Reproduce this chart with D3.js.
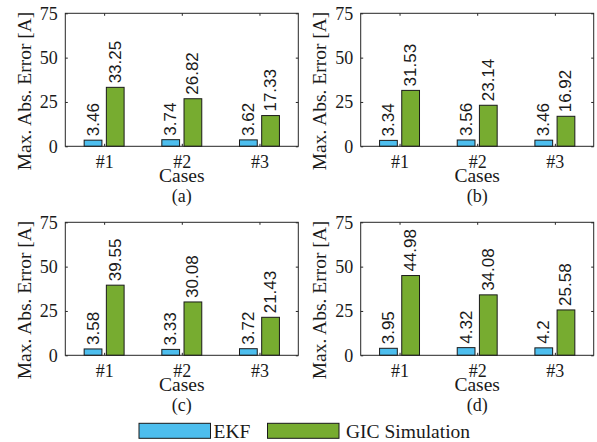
<!DOCTYPE html>
<html>
<head>
<meta charset="utf-8">
<script src="https://cdn.jsdelivr.net/npm/d3@7"></script>
<style>
  html, body { margin: 0; padding: 0; background: #fff; }
  svg { display: block; }
</style>
</head>
<body>
<svg id="chart" width="597" height="442"></svg>
<script>
// ---- data ----
const categories = ["#1", "#2", "#3"];
const seriesNames = ["EKF", "GIC Simulation"];
const panelLabels = ["(a)", "(b)", "(c)", "(d)"];
const ekfA = [3.46, 3.74, 3.62];
const gicA = [33.25, 26.82, 17.33];
const ekfB = [3.34, 3.56, 3.46];
const gicB = [31.53, 23.14, 16.92];
const ekfC = [3.58, 3.33, 3.72];
const gicC = [39.55, 30.08, 21.43];
const ekfD = [3.95, 4.32, 4.2];
const gicD = [44.98, 34.08, 25.58];
const yTicks = [0, 25, 50, 75];
const yLabel = "Max. Abs. Error [A]";
const xLabel = "Cases";

const panels = [
  { ekf: ekfA, gic: gicA, label: panelLabels[0], left: 65.3, top: 13.3 },
  { ekf: ekfB, gic: gicB, label: panelLabels[1], left: 360.7, top: 13.3 },
  { ekf: ekfC, gic: gicC, label: panelLabels[2], left: 65.3, top: 222.3 },
  { ekf: ekfD, gic: gicD, label: panelLabels[3], left: 360.7, top: 222.3 }
];

const colors = ["#4DBEEE", "#77AC30"];
const axisColor = "#262626";
const serifFont = "Liberation Serif";
const sansFont = "Liberation Sans";
const W = 233, H = 133;
const groupW = 2 / 3.5;            // MATLAB grouped bar width
const barW = groupW / 2 * 0.8;
const offsets = [-groupW / 4, groupW / 4];

const svg = d3.select("#chart");

panels.forEach(p => {
  const g = svg.append("g").attr("transform", `translate(${p.left},${p.top})`);
  const x = d3.scaleLinear().domain([0.5, 3.5]).range([0, W]);
  const y = d3.scaleLinear().domain([0, 75]).range([H, 0]);

  // bars
  [p.ekf, p.gic].forEach((vals, si) => {
    g.selectAll(null).data(vals).enter().append("rect")
      .attr("x", (d, i) => x(i + 1 + offsets[si] - barW / 2))
      .attr("y", d => y(d))
      .attr("width", x(barW) - x(0))
      .attr("height", d => y(0) - y(d))
      .attr("fill", colors[si])
      .attr("stroke", "#1a1a1a")
      .attr("stroke-width", 1);
    g.selectAll(null).data(vals).enter().append("text")
      .attr("transform", (d, i) => `translate(${x(i + 1 + offsets[si])},${y(d) - 4}) rotate(-90)`)
      .attr("text-anchor", "start")
      .attr("dominant-baseline", "central")
      .attr("font-family", sansFont)
      .attr("font-size", 17)
      .attr("fill", "#1a1a1a")
      .text(d => String(d));
  });

  // axes (box with mirrored inward ticks)
  const tickLen = 2.5;
  const axL = g.append("g").call(d3.axisLeft(y).tickValues(yTicks).tickSize(-tickLen).tickPadding(5 + tickLen));
  const axR = g.append("g").attr("transform", `translate(${W},0)`)
    .call(d3.axisRight(y).tickValues(yTicks).tickSize(-tickLen).tickFormat(""));
  const axB = g.append("g").attr("transform", `translate(0,${H})`)
    .call(d3.axisBottom(x).tickValues([1, 2, 3]).tickSize(-tickLen).tickPadding(6 + tickLen)
      .tickFormat(d => categories[d - 1]));
  const axT = g.append("g")
    .call(d3.axisTop(x).tickValues([1, 2, 3]).tickSize(-tickLen).tickFormat(""));
  [axL, axR, axB, axT].forEach(a => {
    a.attr("font-family", serifFont).attr("font-size", 18);
    a.selectAll("path").remove();
    a.selectAll("line").attr("stroke", axisColor).attr("stroke-width", 1);
    a.selectAll("text").attr("font-family", serifFont).attr("font-size", 18).attr("fill", "#1a1a1a");
  });
  g.append("rect").attr("x", 0).attr("y", 0).attr("width", W).attr("height", H)
    .attr("fill", "none").attr("stroke", axisColor).attr("stroke-width", 1);

  // labels
  g.append("text")
    .attr("transform", `translate(${30.5 - 65.3},${91 - 13.3}) rotate(-90)`)
    .attr("text-anchor", "middle")
    .attr("font-family", serifFont).attr("font-size", 19.5).attr("fill", "#1a1a1a")
    .text(yLabel);
  g.append("text")
    .attr("x", W / 2).attr("y", H + 35.5)
    .attr("text-anchor", "middle")
    .attr("font-family", serifFont).attr("font-size", 19.5).attr("fill", "#1a1a1a")
    .text(xLabel);
  g.append("text")
    .attr("x", W / 2).attr("y", H + 56)
    .attr("text-anchor", "middle")
    .attr("font-family", serifFont).attr("font-size", 18).attr("fill", "#1a1a1a")
    .text(p.label);
});

// legend
const legend = svg.append("g");
const legendItems = [
  { box: 139, text: 213.5 },
  { box: 267.5, text: 346 }
];
seriesNames.forEach((name, i) => {
  legend.append("rect")
    .attr("x", legendItems[i].box).attr("y", 423.3)
    .attr("width", 71.5).attr("height", 15)
    .attr("fill", colors[i]).attr("stroke", "#1a1a1a").attr("stroke-width", 1);
  legend.append("text")
    .attr("x", legendItems[i].text).attr("y", 437.5)
    .attr("font-family", serifFont).attr("font-size", 19.5).attr("fill", "#1a1a1a")
    .text(name);
});
</script>
</body>
</html>
